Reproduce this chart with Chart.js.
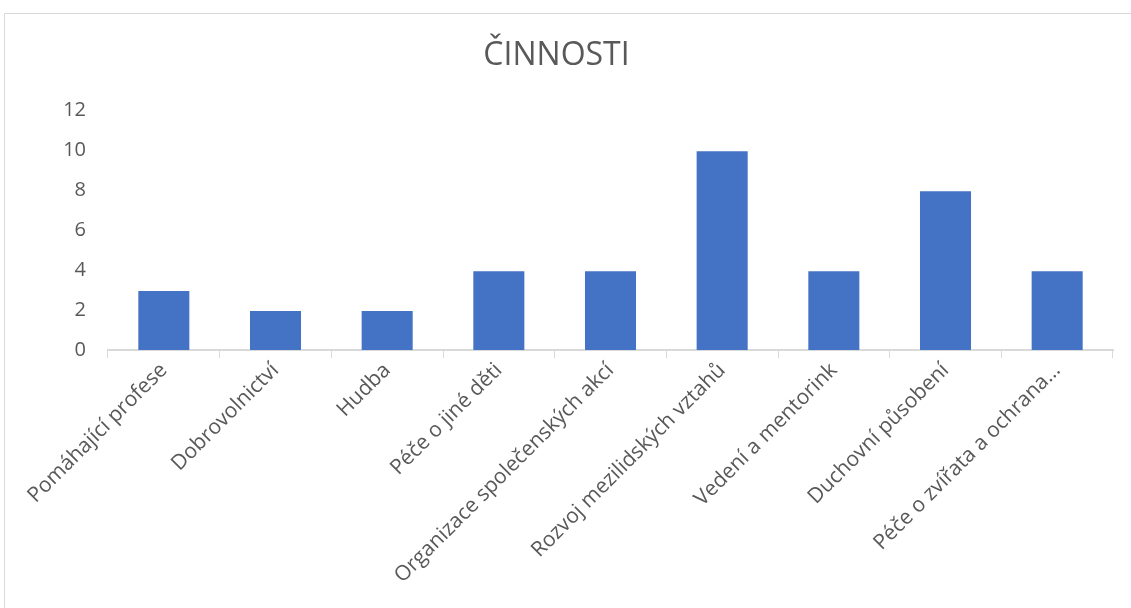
<!DOCTYPE html>
<html>
<head>
<meta charset="utf-8">
<script src="https://cdn.jsdelivr.net/npm/chart.js@4"></script>
<style>
  html, body { margin: 0; padding: 0; background: #fff; }
  #wrap { position: relative; width: 1131px; height: 608px; }
</style>
</head>
<body>
<div id="wrap"><canvas id="myChart"></canvas></div>
<script>
const categories = [
  "Pomáhající profese",
  "Dobrovolnictví",
  "Hudba",
  "Péče o jiné děti",
  "Organizace společenských akcí",
  "Rozvoj mezilidských vztahů",
  "Vedení a mentorink",
  "Duchovní působení",
  "Péče o zvířata a ochrana…"
];
const counts = [3, 2, 2, 4, 4, 10, 4, 8, 4];
const yTicks = [0, 2, 4, 6, 8, 10, 12];

// light frame around the chart (cut off at right and bottom like the screenshot)
const framePlugin = {
  id: "frame",
  beforeDraw(chart) {
    const ctx = chart.ctx;
    ctx.save();
    ctx.strokeStyle = "#d9d9d9";
    ctx.lineWidth = 1;
    ctx.strokeRect(4.5, 13.5, 1200, 700);
    ctx.restore();
  }
};

const ctx = document.getElementById("myChart").getContext("2d");
new Chart(ctx, {
  type: "bar",
  data: {
    labels: categories,
    datasets: [
      {
        data: counts,
        backgroundColor: "#4472C4",
        borderColor: "rgba(255,255,255,0.35)",
        borderWidth: 1,
        barPercentage: 0.475,
        categoryPercentage: 1
      }
    ]
  },
  options: {
    responsive: true,
    maintainAspectRatio: false,
    animation: false,
    layout: { padding: { left: 0, right: 18, top: 0, bottom: 0 } },
    plugins: {
      legend: { display: false },
      tooltip: { enabled: false },
      title: {
        display: true,
        text: "ČINNOSTI",
        color: "#595959",
        font: { family: "Open Sans", size: 32, weight: "normal" },
        padding: { top: 37, bottom: 35 }
      }
    },
    scales: {
      y: {
        min: 0,
        max: 12,
        afterBuildTicks: (s) => { s.ticks = yTicks.map((v) => ({ value: v })); },
        afterFit: (s) => { s.width = 108; },
        grid: { display: false },
        border: { display: false },
        ticks: {
          color: "#595959",
          font: { family: "Open Sans", size: 20 },
          padding: 14
        }
      },
      x: {
        afterFit: (s) => { s.height = 258; },
        grid: {
          offset: true,
          drawOnChartArea: false,
          drawTicks: true,
          tickLength: 8,
          color: "#d9d9d9"
        },
        border: { display: true, color: "#d9d9d9", width: 2 },
        ticks: {
          autoSkip: false,
          minRotation: 45,
          maxRotation: 45,
          color: "#595959",
          font: { family: "Open Sans", size: 21 },
          padding: 0
        }
      }
    }
  },
  plugins: [framePlugin]
});
</script>
</body>
</html>
